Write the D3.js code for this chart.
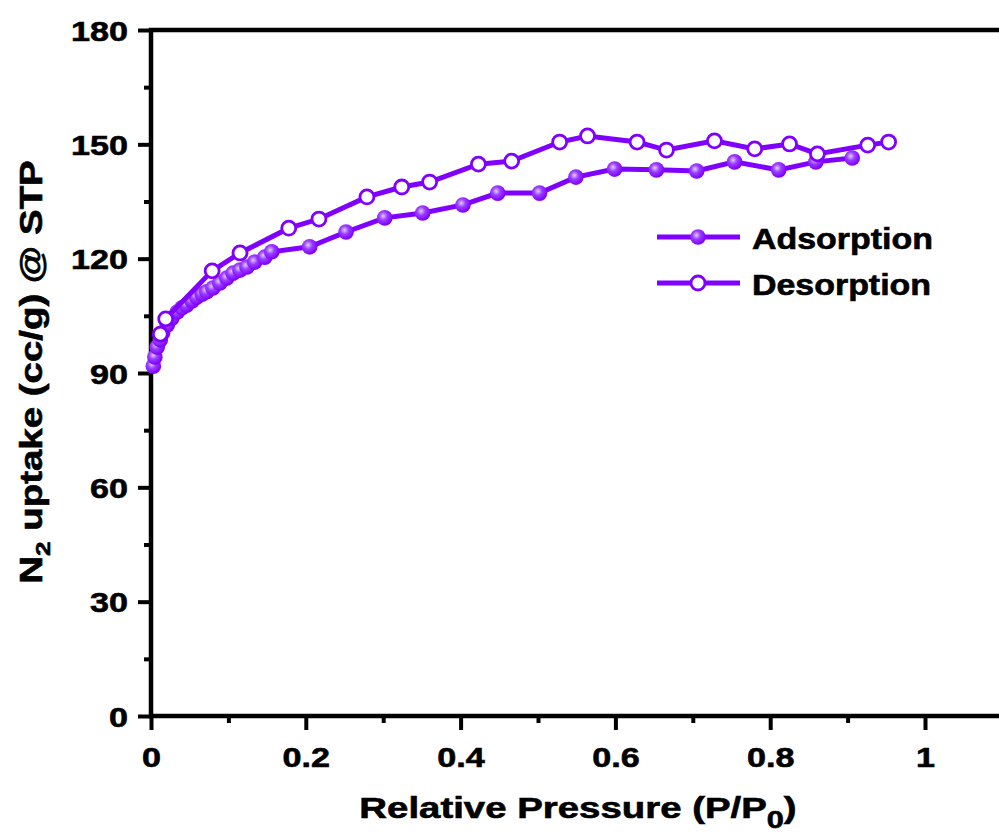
<!DOCTYPE html>
<html>
<head>
<meta charset="utf-8">
<script src="https://cdn.jsdelivr.net/npm/d3@7"></script>
<style>
  body { margin: 0; background: #fff; }
  text { font-family: Arial, "Liberation Sans", sans-serif; font-weight: bold; fill: #000; stroke: #000; stroke-width: 0.6px; }
</style>
</head>
<body>
<script>
// isotherm data
var adsP = [0.003, 0.005, 0.008, 0.012, 0.015, 0.021, 0.027, 0.034, 0.040, 0.046, 0.053, 0.059,
  0.066, 0.072, 0.080, 0.089, 0.098, 0.106, 0.115, 0.124, 0.134, 0.147, 0.156, 0.205, 0.252,
  0.302, 0.351, 0.403, 0.448, 0.502, 0.549, 0.599, 0.653, 0.705, 0.754, 0.811, 0.859, 0.906];
var adsV = [91.8, 94.2, 96.8, 98.7, 100.5, 102.6, 104.4, 106.0, 107.1, 107.8, 108.9, 109.9,
  110.7, 111.3, 112.3, 113.6, 114.9, 116.2, 117.0, 117.8, 119.1, 120.4, 121.8, 123.1, 127.0,
  130.7, 132.0, 134.1, 137.2, 137.2, 141.4, 143.5, 143.3, 143.0, 145.4, 143.3, 145.4, 146.4];

var desP = [0.953, 0.926, 0.861, 0.825, 0.780, 0.728, 0.666, 0.628, 0.564, 0.528, 0.466, 0.423,
  0.360, 0.324, 0.279, 0.217, 0.178, 0.115, 0.079, 0.019, 0.012];
var desV = [150.6, 149.8, 147.5, 150.1, 148.8, 150.9, 148.5, 150.6, 152.2, 150.6, 145.6, 144.8,
  140.1, 138.8, 136.2, 130.4, 128.0, 121.5, 116.8, 104.2, 100.2];

var xTicks = [0, 0.2, 0.4, 0.6, 0.8, 1];
var xMinor = [0.1, 0.3, 0.5, 0.7, 0.9];
var yTicks = [0, 30, 60, 90, 120, 150, 180];
var yMinor = [15, 45, 75, 105, 135, 165];
var seriesNames = ["Adsorption", "Desorption"];

var W = 999, H = 836;
var purple = "#8000ff";
var plotLeft = 151, plotBottom = 716, plotTop = 30;

var svg = d3.select("body").append("svg")
  .attr("width", W)
  .attr("height", H);

var defs = svg.append("defs");
var grad = defs.append("radialGradient")
  .attr("id", "ball")
  .attr("cx", "40%").attr("cy", "38%").attr("r", "60%");
grad.append("stop").attr("offset", "0%").attr("stop-color", "#e2ccff");
grad.append("stop").attr("offset", "45%").attr("stop-color", "#9a3dff");
grad.append("stop").attr("offset", "100%").attr("stop-color", purple);

var x = d3.scaleLinear().domain([0, 1]).range([plotLeft, 925]);
var y = d3.scaleLinear().domain([0, 180]).range([plotBottom, plotTop]);

// minor ticks
svg.append("g")
  .attr("transform", `translate(${plotLeft},0)`)
  .call(d3.axisLeft(y).tickValues(yMinor).tickSize(7).tickFormat(""))
  .call(g => g.select(".domain").remove())
  .selectAll("line").attr("stroke", "#000").attr("stroke-width", 4);

svg.append("g")
  .attr("transform", `translate(0,${plotBottom})`)
  .call(d3.axisBottom(x).tickValues(xMinor).tickSize(7).tickFormat(""))
  .call(g => g.select(".domain").remove())
  .selectAll("line").attr("stroke", "#000").attr("stroke-width", 4);

// major ticks + labels
var sx = 1.22;
var yAxis = svg.append("g")
  .attr("transform", `translate(${plotLeft},0)`)
  .call(d3.axisLeft(y).tickValues(yTicks).tickSize(13).tickFormat(d3.format("d")))
  .call(g => g.select(".domain").remove());
yAxis.selectAll("line").attr("stroke", "#000").attr("stroke-width", 4);
yAxis.selectAll("text")
  .attr("x", -23 / sx)
  .attr("dy", "0.36em")
  .attr("transform", `scale(${sx},1)`)
  .style("font-size", "28px");

var xAxis = svg.append("g")
  .attr("transform", `translate(0,${plotBottom})`)
  .call(d3.axisBottom(x).tickValues(xTicks).tickSize(14).tickFormat(d => d === 0 || d === 1 ? d : d3.format(".1f")(d)))
  .call(g => g.select(".domain").remove());
xAxis.selectAll("line").attr("stroke", "#000").attr("stroke-width", 4);
xAxis.selectAll("text")
  .attr("y", 51)
  .attr("dy", 0)
  .attr("transform", `scale(${sx},1)`)
  .attr("x", 0)
  .style("font-size", "28px");

// frame
svg.append("path")
  .attr("d", `M1005,${plotTop}H${plotLeft}V${plotBottom}H1005`)
  .attr("fill", "none")
  .attr("stroke", "#000")
  .attr("stroke-width", 4.5)
  .attr("stroke-linecap", "square");

var line = d3.line().x(d => x(d[0])).y(d => y(d[1]));

var ads = adsP.map((p, i) => [p, adsV[i]]);
var des = desP.map((p, i) => [p, desV[i]]);

svg.append("path").datum(ads)
  .attr("d", line)
  .attr("fill", "none").attr("stroke", purple).attr("stroke-width", 5);
svg.selectAll(".ads").data(ads).enter().append("circle")
  .attr("class", "ads")
  .attr("cx", d => x(d[0])).attr("cy", d => y(d[1]))
  .attr("r", 7.8)
  .attr("fill", "url(#ball)");

svg.append("path").datum(des)
  .attr("d", line)
  .attr("fill", "none").attr("stroke", purple).attr("stroke-width", 5);
svg.selectAll(".des").data(des).enter().append("circle")
  .attr("class", "des")
  .attr("cx", d => x(d[0])).attr("cy", d => y(d[1]))
  .attr("r", 7)
  .attr("fill", "#fff").attr("stroke", purple).attr("stroke-width", 2.8);

// legend
var legY = [237, 283];
seriesNames.forEach(function(name, i) {
  var g = svg.append("g").attr("transform", `translate(0,${legY[i]})`);
  g.append("line").attr("x1", 657).attr("x2", 740).attr("y1", 0).attr("y2", 0)
    .attr("stroke", purple).attr("stroke-width", 5);
  if (i === 0) {
    g.append("circle").attr("cx", 698).attr("cy", 0).attr("r", 7.8).attr("fill", "url(#ball)");
  } else {
    g.append("circle").attr("cx", 698).attr("cy", 0).attr("r", 7)
      .attr("fill", "#fff").attr("stroke", purple).attr("stroke-width", 2.8);
  }
  g.append("text")
    .attr("transform", `translate(752,12) scale(1.17,1)`)
    .style("font-size", "29px")
    .text(name);
});

// axis titles
var xt = svg.append("text")
  .attr("transform", `translate(578,818) scale(1.28,1)`)
  .attr("text-anchor", "middle")
  .style("font-size", "30px");
xt.append("tspan").text("Relative Pressure (P/P");
xt.append("tspan").attr("dy", 10).style("font-size", "24px").text("0");
xt.append("tspan").attr("dy", -10).text(")");

var yt = svg.append("text")
  .attr("transform", `translate(42,372) rotate(-90) scale(1.24,1)`)
  .attr("text-anchor", "middle")
  .style("font-size", "31px");
yt.append("tspan").text("N");
yt.append("tspan").attr("dy", 8).style("font-size", "21px").text("2");
yt.append("tspan").attr("dy", -8).text(" uptake (cc/g) @ STP");
</script>
</body>
</html>
